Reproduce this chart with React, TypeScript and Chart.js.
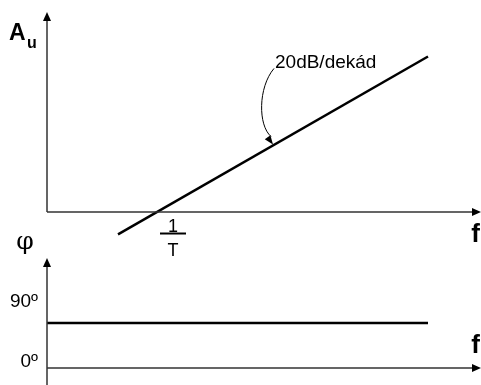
import React, { useEffect, useRef } from "react";
import { Chart, registerables } from "chart.js";

Chart.register(...registerables);

// x values are log10(f·T) (decades relative to the corner frequency 1/T)
const gainDecades = [-0.39, 2.71];
const gainDb = [-7.8, 54.2];
const phaseDecades = [-1.1, 2.71];
const phaseDeg = [90, 90];
const phaseTicks = [0, 90];
const phaseTickLabels = ["0º", "90º"];
const slopeLabel = "20dB/dekád";
const cornerLabelTop = "1";
const cornerLabelBottom = "T";
const cornerDecade = 0;
const slopeMarkDecade = 1.16;

const X_MIN = -1.57;
const X_MAX = 3.24;
const X_AXIS_AT = -1.1;
const GAIN_MIN = -60.3;
const GAIN_MAX = 73.9;
const GAIN_AXIS_TOP = 69.7;
const PHASE_MIN = -34;
const PHASE_MAX = 736;
const PHASE_AXIS_TOP = 220;

const AXIS_COLOR = "#333333";

function arrowHead(ctx: CanvasRenderingContext2D, x: number, y: number, dir: "up" | "right") {
  ctx.beginPath();
  if (dir === "up") {
    ctx.moveTo(x, y);
    ctx.lineTo(x - 4, y + 9);
    ctx.lineTo(x + 4, y + 9);
  } else {
    ctx.moveTo(x, y);
    ctx.lineTo(x - 9, y - 4);
    ctx.lineTo(x - 9, y + 4);
  }
  ctx.closePath();
  ctx.fill();
}

const decorPlugin = {
  id: "decor",
  afterDatasetsDraw(chart: any) {
    const ctx: CanvasRenderingContext2D = chart.ctx;
    const xs = chart.scales.x;
    const ya = chart.scales.yA;
    const yp = chart.scales.yP;
    const x0 = xs.getPixelForValue(X_AXIS_AT);
    const xEnd = xs.getPixelForValue(X_MAX);
    ctx.save();
    ctx.strokeStyle = AXIS_COLOR;
    ctx.fillStyle = "#000";
    ctx.lineWidth = 1.5;

    // top axes
    const a0 = ya.getPixelForValue(0);
    const aTop = ya.getPixelForValue(GAIN_AXIS_TOP);
    ctx.beginPath();
    ctx.moveTo(x0, a0);
    ctx.lineTo(x0, aTop + 6);
    ctx.moveTo(x0, a0);
    ctx.lineTo(xEnd - 6, a0);
    ctx.stroke();
    arrowHead(ctx, x0, aTop, "up");
    arrowHead(ctx, xEnd, a0, "right");

    // bottom axes
    const p0 = yp.getPixelForValue(0);
    const pTop = yp.getPixelForValue(PHASE_AXIS_TOP);
    const pBottom = chart.chartArea.bottom;
    ctx.beginPath();
    ctx.moveTo(x0, pBottom);
    ctx.lineTo(x0, pTop + 6);
    ctx.moveTo(x0, p0);
    ctx.lineTo(xEnd - 6, p0);
    ctx.stroke();
    arrowHead(ctx, x0, pTop, "up");
    arrowHead(ctx, xEnd, p0, "right");

    // axis titles
    ctx.fillStyle = "#000";
    ctx.textAlign = "left";
    ctx.textBaseline = "alphabetic";
    ctx.font = "bold 23px 'Liberation Sans', Arial, sans-serif";
    ctx.fillText("A", x0 - 38, aTop + 28);
    ctx.font = "bold 16px 'Liberation Sans', Arial, sans-serif";
    ctx.fillText("u", x0 - 20, aTop + 36);
    ctx.font = "bold 26px 'Liberation Sans', Arial, sans-serif";
    ctx.textAlign = "right";
    ctx.fillText("f", xEnd - 1, a0 + 30);
    ctx.fillText("f", xEnd - 1, p0 - 15);
    ctx.font = "25px 'DejaVu Serif', 'Liberation Serif', serif";
    ctx.textAlign = "center";
    ctx.fillText("φ", x0 - 22, pTop - 9);

    // phase tick labels
    ctx.font = "19px 'Liberation Sans', Arial, sans-serif";
    ctx.textAlign = "right";
    phaseTicks.forEach((v, i) => {
      const py = yp.getPixelForValue(v);
      const lift = v === 0 ? 1 : 16;
      ctx.fillText(phaseTickLabels[i], x0 - 9, py - lift);
    });

    // corner frequency 1/T
    const cx = xs.getPixelForValue(cornerDecade) + 16;
    ctx.font = "18px 'Liberation Sans', Arial, sans-serif";
    ctx.textAlign = "center";
    ctx.fillText(cornerLabelTop, cx, a0 + 20);
    ctx.fillText(cornerLabelBottom, cx, a0 + 44);
    ctx.strokeStyle = "#000";
    ctx.lineWidth = 2;
    ctx.beginPath();
    ctx.moveTo(cx - 13, a0 + 21.5);
    ctx.lineTo(cx + 13, a0 + 21.5);
    ctx.stroke();

    // slope annotation
    const slope = (gainDb[1] - gainDb[0]) / (gainDecades[1] - gainDecades[0]);
    const tipX = xs.getPixelForValue(slopeMarkDecade);
    const tipY = ya.getPixelForValue(gainDb[0] + slope * (slopeMarkDecade - gainDecades[0]));
    const sx = tipX + 1;
    const sy = tipY - 78;
    ctx.font = "19px 'Liberation Sans', Arial, sans-serif";
    ctx.textAlign = "left";
    ctx.fillText(slopeLabel, sx + 1, sy + 1);
    ctx.lineWidth = 1;
    ctx.beginPath();
    ctx.moveTo(sx, sy + 1);
    ctx.bezierCurveTo(sx - 16, sy + 20, sx - 16, sy + 58, tipX - 2, tipY - 9);
    ctx.stroke();
    // arrowhead along tangent
    const ang = Math.atan2(tipY - (sy + 58), tipX - (sx - 16));
    ctx.beginPath();
    ctx.moveTo(tipX, tipY - 1);
    ctx.lineTo(tipX - 9 * Math.cos(ang) + 3.5 * Math.sin(ang), tipY - 1 - 9 * Math.sin(ang) - 3.5 * Math.cos(ang));
    ctx.lineTo(tipX - 9 * Math.cos(ang) - 3.5 * Math.sin(ang), tipY - 1 - 9 * Math.sin(ang) + 3.5 * Math.cos(ang));
    ctx.closePath();
    ctx.fill();

    ctx.restore();
  },
};

export default function App() {
  const ref = useRef<HTMLCanvasElement>(null);
  useEffect(() => {
    if (!ref.current) return;
    const chart = new Chart(ref.current, {
      type: "scatter",
      data: {
        datasets: [
          {
            label: "A_u",
            data: gainDecades.map((x, i) => ({ x, y: gainDb[i] })),
            yAxisID: "yA",
            showLine: true,
            borderColor: "#000",
            borderWidth: 2.5,
            pointRadius: 0,
          },
          {
            label: "phi",
            data: phaseDecades.map((x, i) => ({ x, y: phaseDeg[i] })),
            yAxisID: "yP",
            showLine: true,
            borderColor: "#000",
            borderWidth: 2.5,
            pointRadius: 0,
          },
        ],
      },
      options: {
        responsive: false,
        animation: false,
        layout: { padding: 0 },
        plugins: { legend: { display: false }, tooltip: { enabled: false } },
        scales: {
          x: { type: "linear", min: X_MIN, max: X_MAX, display: false },
          yA: { type: "linear", min: GAIN_MIN, max: GAIN_MAX, display: false },
          yP: { type: "linear", min: PHASE_MIN, max: PHASE_MAX, display: false },
        },
      },
      plugins: [decorPlugin],
    });
    return () => chart.destroy();
  }, []);
  return (
    <div style={{ position: "absolute", left: 0, top: 0, width: 481, height: 385, background: "#fff" }}>
      <canvas ref={ref} width={481} height={385} />
    </div>
  );
}
